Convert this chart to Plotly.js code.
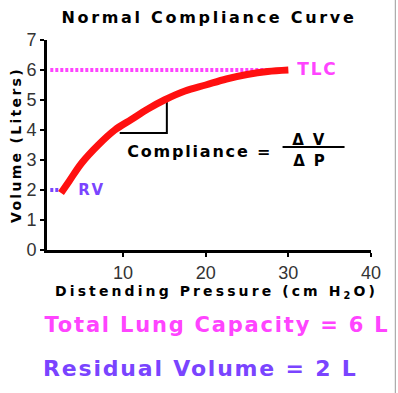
<!DOCTYPE html>
<html><head><meta charset="utf-8">
<script src="https://cdn.plot.ly/plotly-3.0.1.min.js"></script>
<style>
html,body{margin:0;padding:0;background:#fff}
#plot{width:398px;height:393px}
#plot .gtitle{letter-spacing:2.7px}
#plot .xtitle{letter-spacing:3.1px}
#plot .ytitle{letter-spacing:2.3px}
#plot .annotation-text{letter-spacing:1.8px}
</style>
</head><body><div id="plot"></div>
<script>
const pressure = [2.5, 3.5, 5, 7, 9, 11, 13, 15, 17.5, 20, 22.5, 25, 27.5, 30];
const volume   = [1.9, 2.3, 2.9, 3.5, 4.0, 4.35, 4.7, 5.0, 5.3, 5.5, 5.7, 5.85, 5.95, 6.0];
const tlcX = [1.2, 29.3];
const tlcY = [6, 6];
const rvX = [1.2, 2.4];
const rvY = [2, 2];
const triX = [9.6, 15.3, 15.3];
const triY = [3.9, 3.9, 5.0];
const xTicks = [10, 20, 30, 40];
const yTicks = [0, 1, 2, 3, 4, 5, 6, 7];

const magenta = '#ff44ff';
const purple = '#7a44ff';
const bold = 'DejaVu Sans';

const traces = [
  {x: tlcX, y: tlcY, mode: 'lines', line: {color: magenta, width: 4, dash: '3px,2px'}, hoverinfo: 'skip'},
  {x: rvX, y: rvY, mode: 'lines', line: {color: purple, width: 4, dash: '3px,2px'}, hoverinfo: 'skip'},
  {x: triX, y: triY, mode: 'lines', line: {color: '#000', width: 2}, hoverinfo: 'skip'},
  {x: pressure, y: volume, mode: 'lines', line: {color: '#ff1010', width: 7, shape: 'spline'}}
];

const layout = {
  width: 398, height: 393,
  margin: {l: 47, r: 27, t: 40, b: 143},
  paper_bgcolor: '#fff', plot_bgcolor: '#fff',
  showlegend: false,
  title: {text: '<b>Normal Compliance Curve</b>', font: {family: bold, size: 16, color: '#000'}, x: 0.525, xanchor: 'center', y: 0.955, yanchor: 'middle'},
  xaxis: {
    range: [0.8, 40], tickvals: xTicks, ticks: 'outside', ticklen: 4, tickwidth: 2, tickcolor: '#000',
    showline: true, linecolor: '#000', linewidth: 3, showgrid: false, zeroline: false,
    tickfont: {family: 'Liberation Sans', size: 18, color: '#333'},
    title: {text: '&nbsp;&nbsp;<b>Distending Pressure (cm H<sub>2</sub>O)</b>', font: {family: bold, size: 14, color: '#000'}, standoff: 3}
  },
  yaxis: {
    range: [0, 7], tickvals: yTicks, ticks: 'outside', ticklen: 4, tickwidth: 2, tickcolor: '#000',
    showline: true, linecolor: '#000', linewidth: 3, showgrid: false, zeroline: false,
    tickfont: {family: 'Liberation Sans', size: 18, color: '#333'},
    title: {text: '<b>Volume (Liters)</b>', font: {family: bold, size: 14, color: '#000'}, standoff: 2}
  },
  annotations: [
    {x: 31.2, y: 6.05, xref: 'x', yref: 'y', text: '<b>TLC</b>', showarrow: false, xanchor: 'left', font: {family: bold, size: 17, color: magenta}},
    {x: 4.5, y: 2.0, xref: 'x', yref: 'y', text: '<b>RV</b>', showarrow: false, xanchor: 'left', font: {family: bold, size: 15, color: purple}},
    {x: 19.3, y: 3.27, xref: 'x', yref: 'y', text: '<b>Compliance =</b>', showarrow: false, xanchor: 'center', font: {family: bold, size: 16, color: '#000'}},
    {x: 32.6, y: 3.68, xref: 'x', yref: 'y', text: '<b>Δ V</b>', showarrow: false, xanchor: 'center', font: {family: bold, size: 15, color: '#000'}},
    {x: 32.6, y: 2.98, xref: 'x', yref: 'y', text: '<b>Δ P</b>', showarrow: false, xanchor: 'center', font: {family: bold, size: 15, color: '#000'}},
    {x: 0.525, y: -0.357, xref: 'paper', yref: 'paper', text: '<b>Total Lung Capacity = 6 L</b>', showarrow: false, xanchor: 'center', yanchor: 'middle', font: {family: bold, size: 21, color: magenta}},
    {x: 0.475, y: -0.562, xref: 'paper', yref: 'paper', text: '<b>Residual Volume = 2 L</b>', showarrow: false, xanchor: 'center', yanchor: 'middle', font: {family: bold, size: 22, color: purple}}
  ],
  shapes: [
    {type: 'line', xref: 'x', yref: 'y', x0: 29.3, x1: 36.8, y0: 3.43, y1: 3.43, line: {color: '#000', width: 2}},
    {type: 'line', xref: 'paper', yref: 'paper', x0: 1.075, x1: 1.075, y0: -0.7, y1: 1.2, line: {color: '#999', width: 1}}
  ]
};

Plotly.newPlot('plot', traces, layout, {displayModeBar: false, staticPlot: true});
</script></body></html>
